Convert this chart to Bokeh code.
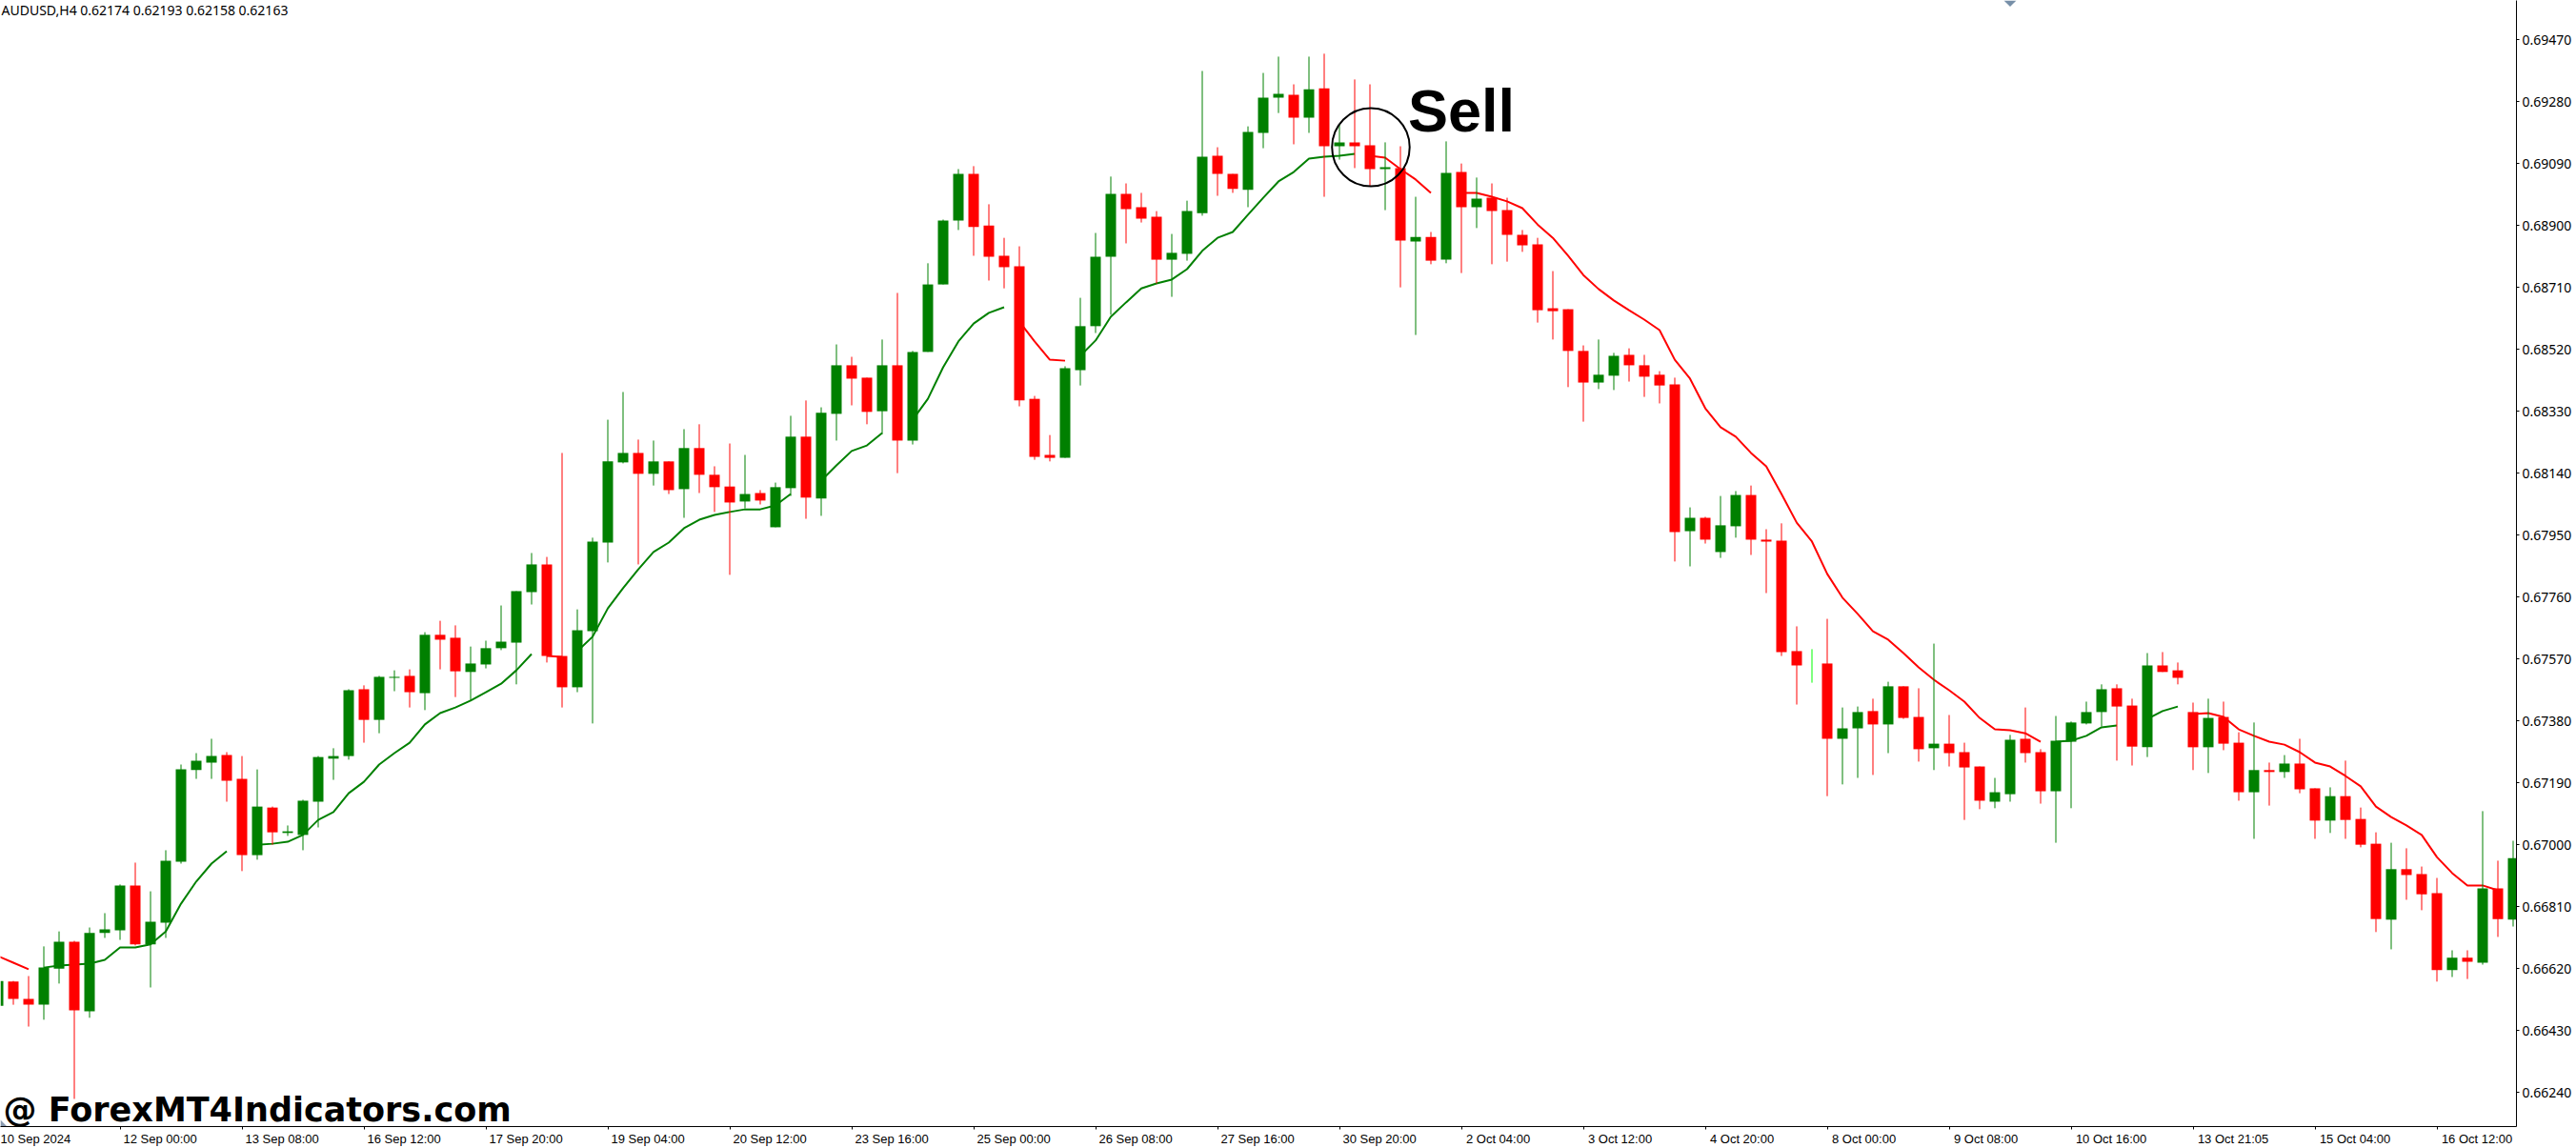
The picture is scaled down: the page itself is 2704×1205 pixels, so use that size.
from bokeh.plotting import figure
from bokeh.embed import file_html
from bokeh.resources import INLINE
from bokeh.models import LinearAxis, FixedTicker, ColumnDataSource
from bokeh.core.properties import value

# AUDUSD H4 candles, price * 1e5, first bar index -1
first_index = -1
opens = [66507,66581,66528,66510,66621,66703,66490,66730,66738,66876,66695,66762,66949,67230,67253,67276,67203,66969,67115,67037,67031,67133,67265,67273,67478,67384,67513,67519,67466,67645,67636,67531,67554,67604,67621,67776,67861,67580,67484,67656,67928,68174,68203,68139,68177,68092,68218,68136,68100,68054,68080,67975,68095,68253,68063,68323,68472,68434,68331,68472,68241,68513,68720,68916,69059,68901,68808,68776,68369,68197,68188,68457,68592,68805,68998,68957,68928,68796,68814,68939,69115,69059,69010,69185,69293,69302,69232,69322,69144,69156,69147,69074,69077,68852,68866,68796,69065,68957,68986,68948,68872,68843,68647,68644,68516,68419,68440,68504,68472,68443,68413,67963,68004,67899,67978,68074,67937,67934,67595,67554,67557,67326,67358,67411,67370,67487,67393,67297,67311,67285,67241,67133,67156,67326,67285,67165,67317,67373,67408,67481,67428,67300,67551,67536,67408,67300,67393,67314,67162,67230,67224,67250,67174,67075,67150,67080,67004,66771,66926,66911,66852,66616,66654,66639,66867,66771]
highs = [66589,66583,66598,66689,66735,66706,66747,66791,66879,66946,66858,66984,67247,67282,67326,67285,67273,67232,67118,67060,67139,67273,67297,67478,67490,67519,67536,67539,67653,67688,67674,67609,67627,67735,67779,67896,67884,68203,67723,67943,68305,68390,68244,68241,68177,68276,68291,68162,68232,68197,68089,68112,68317,68364,68343,68536,68498,68434,68551,68694,68516,68785,68919,69074,69083,68966,68863,68837,68378,68258,68469,68679,68878,69051,69030,69001,68945,68875,68977,69375,69141,69059,69205,69369,69419,69334,69419,69428,69211,69349,69334,69156,69144,68989,68881,69159,69091,69048,69030,68986,68887,68863,68761,68644,68533,68551,68510,68524,68504,68454,68434,68036,68007,68071,68086,68103,67969,67987,67671,67601,67694,67422,67425,67449,67501,67487,67481,67618,67399,67314,67241,67206,67338,67422,67294,67396,67379,67440,67493,67493,67449,67589,67592,67560,67437,67449,67440,67346,67376,67253,67276,67326,67174,67177,67259,67115,67039,67007,66990,66934,66899,66677,66677,67104,66952,67013]
lows = [66502,66510,66443,66464,66575,66221,66470,66715,66709,66692,66563,66715,66943,67203,67203,67133,66920,66955,67001,67028,66984,67054,67200,67262,67314,67343,67472,67422,67414,67539,67454,67443,67542,67598,67493,67738,67560,67422,67469,67373,67867,68171,67861,68103,68077,68004,68080,68022,67829,68033,68045,67975,68071,68001,68010,68241,68349,68291,68261,68141,68229,68513,68720,68887,68808,68732,68708,68346,68182,68177,68188,68410,68571,68627,68846,68910,68723,68682,68793,68931,68992,69001,68957,69138,69246,69150,69185,68989,69103,69077,69021,68948,68711,68565,68782,68785,68755,68893,68782,68790,68820,68603,68551,68405,68299,68399,68396,68422,68375,68355,67870,67855,67925,67881,67943,67890,67773,67580,67431,67498,67150,67186,67206,67215,67282,67387,67256,67230,67241,67077,67110,67113,67133,67253,67127,67007,67113,67370,67364,67259,67244,67270,67531,67493,67230,67221,67291,67136,67019,67121,67206,67159,67019,67037,67019,66993,66733,66680,66832,66800,66581,66595,66589,66633,66718,66750]
closes = [66583,66528,66510,66624,66703,66493,66730,66741,66876,66695,66765,66952,67232,67259,67273,67197,66969,67118,67039,67042,67136,67270,67273,67475,67384,67516,67516,67469,67645,67630,67533,67557,67604,67624,67779,67861,67580,67484,67659,67931,68177,68203,68139,68177,68089,68218,68136,68098,68051,68077,68057,68098,68253,68066,68326,68472,68431,68329,68472,68241,68513,68720,68916,69059,68896,68805,68773,68364,68191,68188,68463,68592,68805,68998,68951,68922,68796,68817,68945,69112,69059,69013,69188,69293,69305,69232,69319,69144,69156,69144,69074,69080,68855,68866,68793,69062,68957,68983,68945,68872,68840,68641,68638,68516,68419,68443,68501,68472,68437,68410,67960,68004,67937,67981,68074,67937,67931,67592,67551,67554,67326,67358,67408,67370,67487,67390,67294,67311,67282,67238,67136,67162,67323,67282,67165,67320,67376,67408,67478,67425,67302,67551,67531,67513,67300,67390,67311,67162,67230,67224,67250,67171,67075,67150,67077,67001,66773,66926,66908,66849,66616,66654,66642,66867,66773,66960]

# Trend line segments: (colour name, first bar index, values * 1e5)
trend_segments = [
    ("red", -1, [66659,66639,66619]),
    ("green", 2, [66624,66630,66633,66636,66648,66686,66686,66695,66735,66820,66888,66943,66981]),
    ("green", 16, [67001,67004,67010,67031,67077,67101,67159,67194,67247,67282,67314,67370,67405,67422,67443,67469,67495,67536,67586]),
    ("red", 35, [67580,67577]),
    ("green", 37, [67595,67639,67726,67788,67846,67899,67928,67972,67998,68013,68022,68030,68030,68042,68077]),
    ("green", 53, [68118,68165,68209,68226,68264]),
    ("green", 59, [68305,68369,68466,68545,68600,68633,68650]),
    ("red", 66, [68606,68545,68489,68486]),
    ("green", 70, [68501,68548,68621,68665,68708,68723,68735,68767,68823,68863,68881,68934,68986,69036,69065,69106,69112,69115,69121]),
    ("red", 89, [69115,69109,69074,69042,69001]),
    ("red", 95, [69001,69001,68989,68975,68954,68904,68863,68808,68749,68706,68671,68641,68612,68580,68489,68431,68340,68282,68253,68203,68162,68077,67989,67931,67832,67759,67709,67656,67630,67589,67545,67507,67475,67440,67390,67355,67352,67343,67317]),
    ("green", 134, [67317,67320,67335,67361,67367]),
    ("green", 140, [67387,67411,67425]),
    ("red", 143, [67402,67405,67393,67355,67335,67317,67308,67285,67253,67241,67212,67180,67118,67086,67060,67031,66963,66914,66876,66876,66861]),
]

y_tick_values = [0.69470,0.69280,0.69090,0.68900,0.68710,0.68520,0.68330,0.68140,0.67950,0.67760,0.67570,0.67380,0.67190,0.67000,0.66810,0.66620,0.66430,0.66240]
x_tick_bars = [-1,7,15,23,31,39,47,55,63,71,79,87,95,103,111,119,127,135,143,151,159]
x_tick_labels = ["10 Sep 2024","12 Sep 00:00","13 Sep 08:00","16 Sep 12:00","17 Sep 20:00","19 Sep 04:00","20 Sep 12:00","23 Sep 16:00","25 Sep 00:00","26 Sep 08:00","27 Sep 16:00","30 Sep 20:00","2 Oct 04:00","3 Oct 12:00","4 Oct 20:00","8 Oct 00:00","9 Oct 08:00","10 Oct 16:00","13 Oct 21:05","15 Oct 04:00","16 Oct 12:00"]

header_text = "AUDUSD,H4  0.62174 0.62193 0.62158 0.62163"
sell_text = "Sell"
watermark_text = "@ ForexMT4Indicators.com"

BAR_PX = 16.0
FRAME_W, FRAME_H = 2641, 1182
X_START = -13.5 / BAR_PX
PRICE_TOP, PRICE_BOTTOM = 0.695913, 0.661362

p = figure(width=2704, height=1205, output_backend="svg", toolbar_location=None,
           x_range=(X_START, X_START + FRAME_W / BAR_PX), y_range=(PRICE_BOTTOM, PRICE_TOP),
           x_axis_location=None, y_axis_location=None,
           frame_width=FRAME_W, frame_height=FRAME_H,
           min_border=0, min_border_left=0, min_border_right=0, min_border_top=0, min_border_bottom=0,
           background_fill_color="white", border_fill_color="white", outline_line_color=None)
p.grid.visible = False

# trend line goes under the candles
COL = {"red": "#ff0000", "green": "#008000"}
for colour, start, vals in trend_segments:
    xs = list(range(start, start + len(vals)))
    p.line(xs, [v / 1e5 for v in vals], line_color=COL[colour], line_width=2)

idx = [first_index + k for k in range(len(opens))]
o = [v / 1e5 for v in opens]
h = [v / 1e5 for v in highs]
l = [v / 1e5 for v in lows]
c = [v / 1e5 for v in closes]
def col(a, b):
    if a == b:
        return "#00ff00"
    return "#008000" if b > a else "#ff0000"
colors = [col(a, b) for a, b in zip(opens, closes)]
src = ColumnDataSource(dict(x=idx, o=o, h=h, l=l, c=c, col=colors,
                            top=[max(a, b) for a, b in zip(o, c)],
                            bot=[min(a, b) for a, b in zip(o, c)]))
p.segment("x", "h", "x", "l", source=src, line_color="col", line_width=1)
p.vbar(x="x", width=11 / BAR_PX, top="top", bottom="bot", source=src, fill_color="col", line_color=None)

# terminal's shift markers
p.patch([130.59, 131.41, 131.0], [PRICE_TOP, PRICE_TOP, 0.69572], fill_color="#778fa8", line_color=None)
p.patch([X_START, X_START, -0.41], [0.66157, PRICE_BOTTOM, PRICE_BOTTOM], fill_color="#8a9bb0", line_color=None)

# annotation circle and texts
p.ellipse(x=[89.06], y=[0.69141], width=[81.5 / BAR_PX], height=[0.0024], fill_color=None,
          line_color="#000000", line_width=2)
p.text(x=[91.5], y=[0.69255], text=[sell_text], text_font=value("Liberation Sans"), text_font_style="bold",
       text_font_size="63px", text_color="#000000", text_baseline="middle")
p.text(x=[-0.65], y=[0.66186], text=[watermark_text], text_font=value("DejaVu Sans"), text_font_style="bold",
       text_font_size="35px", text_color="#000000", text_baseline="middle")
p.text(x=[-0.78], y=[0.69561], text=[header_text], text_font=value("Noto Sans"),
       text_font_size="14px", text_color="#000000", text_baseline="middle")

# right price axis
ry = LinearAxis(ticker=FixedTicker(ticks=y_tick_values), axis_line_color="#000000", axis_line_width=1,
                major_tick_out=3, major_tick_in=0, major_tick_line_color="#000000",
                minor_tick_line_color=None, major_label_standoff=3,
                major_label_text_font="Noto Sans", major_label_text_font_size="14px",
                major_label_text_color="#000000")
ry.major_label_overrides = {v: f"{v:.5f}" for v in y_tick_values}
p.add_layout(ry, "right")

# bottom time axis: labels sit to the right of the minor tick at each label's bar
label_px = [len(t) * 7.1 for t in x_tick_labels]
label_ticks = [b + (w / 2 - 0.5) / BAR_PX for b, w in zip(x_tick_bars, label_px)]
bx = LinearAxis(ticker=FixedTicker(ticks=label_ticks, minor_ticks=x_tick_bars), axis_line_color="#000000",
                axis_line_width=1, major_tick_out=0, major_tick_in=0, major_tick_line_color=None,
                minor_tick_out=3, minor_tick_in=0, minor_tick_line_color="#000000", major_label_standoff=2,
                major_label_text_font="Liberation Sans", major_label_text_font_size="13px",
                major_label_text_color="#000000")
bx.major_label_overrides = {t: s for t, s in zip(label_ticks, x_tick_labels)}
p.add_layout(bx, "below")

open("out.html", "w").write(file_html(p, INLINE))
